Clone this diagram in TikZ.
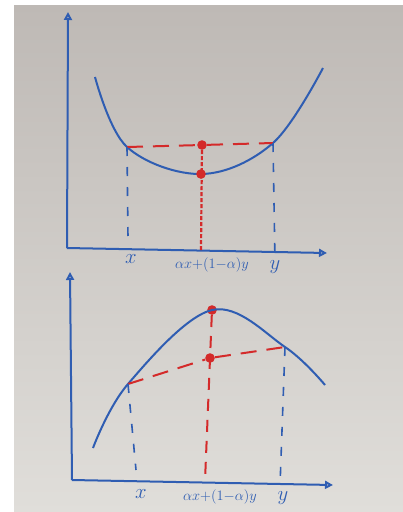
\documentclass[tikz,border=0pt]{standalone}
\usetikzlibrary{arrows.meta}

\definecolor{paper}{RGB}{190,185,181}
\definecolor{paperlow}{RGB}{224,222,218}
\definecolor{pen}{RGB}{47,93,178}
\definecolor{marker}{RGB}{212,42,42}

\tikzset{
  axis/.style={pen, line width=2pt, -{Triangle[open,length=8pt,width=8pt]}},
  curve/.style={pen, line width=2pt},
  guide/.style={pen, line width=1.6pt, dash pattern=on 9pt off 11pt},
  chord/.style={marker, line width=2pt, dash pattern=on 16pt off 10pt},
  drop/.style={marker, line width=2.2pt, dash pattern=on 4pt off 2pt},
  dot/.style={circle, fill=marker, inner sep=3.4pt},
  lbl/.style={pen, font=\Large},
  var/.style={pen, font=\huge}
}

\begin{document}
\begin{tikzpicture}[x=1pt,y=-1pt]
  \useasboundingbox (0,0) rectangle (403,512);
  % paper
  \shade[top color=paper, bottom color=paperlow] (14,5) rectangle (403,512);

  % Top plot: convex function
  \coordinate (o1) at (67,248);
  \coordinate (yt1) at (68,12);
  \coordinate (xt1) at (327,253);
  \draw[axis] (o1) -- (yt1);
  \draw[axis] (o1) -- (xt1);

  \coordinate (ax) at (127,147);
  \coordinate (ay) at (273,143);
  \draw[curve] plot[smooth, tension=0.6] coordinates
    {(95,77) (ax) (202,174) (ay) (323,68)};

  \node[dot] (mid1) at (202,145) {};
  \node[dot] (low1) at (201,174) {};
  \coordinate (foot1) at (201,250);
  \coordinate (gx1) at (128,238);
  \coordinate (gy1) at (275,262);

  \draw[chord] (ax) -- (mid1) -- (ay);
  \draw[drop] (mid1) -- (foot1);
  \draw[guide] (ax) -- (gx1);
  \draw[guide] (ay) -- (gy1);

  \node[var] (x1) at (131,259) {$x$};
  \node[lbl] (m1) at (212,265) {$\alpha x{+}(1{-}\alpha)y$};
  \node[var] (y1) at (275,267) {$y$};

  % Bottom plot: concave function
  \coordinate (o2) at (72,480);
  \coordinate (yt2) at (70,272);
  \coordinate (xt2) at (333,485);
  \draw[axis] (o2) -- (yt2);
  \draw[axis] (o2) -- (xt2);

  \coordinate (bx) at (128,384);
  \coordinate (by) at (285,347);
  \node[dot] (top2) at (212,310) {};
  \draw[curve] plot[smooth, tension=0.6] coordinates
    {(93,448) (bx) (top2) (by) (325,385)};

  \node[dot] (mid2) at (210,358) {};
  \coordinate (foot2) at (205,481);
  \coordinate (gx2) at (136,470);
  \coordinate (gy2) at (280,486);

  \draw[chord] (bx) -- (mid2) -- (by);
  \draw[marker, line width=2pt, dash pattern=on 12pt off 9pt] (top2) -- (foot2);
  \draw[guide] (bx) -- (gx2);
  \draw[guide] (by) -- (gy2);

  \node[var] (x2) at (141,494) {$x$};
  \node[lbl] (m2) at (220,497) {$\alpha x{+}(1{-}\alpha)y$};
  \node[var] (y2) at (283,498) {$y$};
\end{tikzpicture}
\end{document}
